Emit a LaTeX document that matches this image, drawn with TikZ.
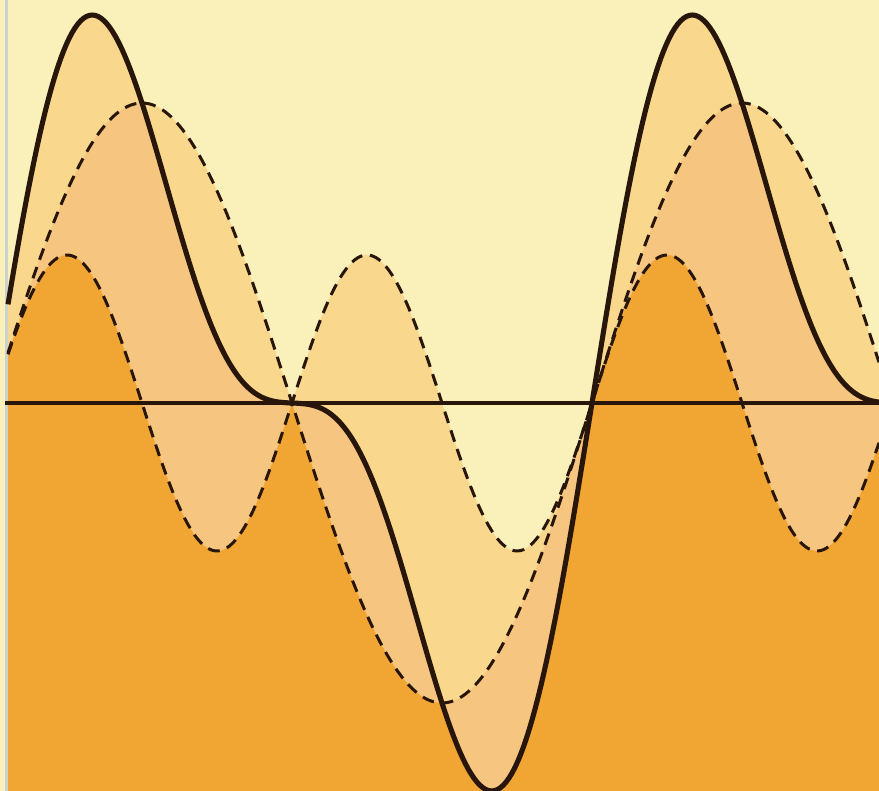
\documentclass[tikz,border=0pt]{standalone}
\usepackage{xcolor}
\usetikzlibrary{calc}
\definecolor{PaleBg}{RGB}{250,240,186}
\definecolor{ToneOne}{RGB}{249,215,140}
\definecolor{ToneTwo}{RGB}{246,197,128}
\definecolor{ToneThree}{RGB}{241,166,52}
\definecolor{InkBrown}{RGB}{40,22,10}
\definecolor{EdgeGrey}{RGB}{205,210,205}
\tikzset{
  declare function={
    bigw(\t)=300*sin(0.6*(\t+8));
    smallw(\t)=148*sin(1.2*(\t+8));
    sumw(\t)=bigw(\t)+smallw(\t);
  },
  wavesolid/.style={InkBrown,line width=1.45pt,line join=round},
  wavedash/.style={InkBrown,line width=0.85pt,dash pattern=on 3.4pt off 2.2pt},
  axisline/.style={InkBrown,line width=1.1pt},
  underbig/.style={insert path={plot[domain=0:879,samples=300] (\x,{403-bigw(\x)}) -- (879,791) -- (0,791) -- cycle}},
  undersmall/.style={insert path={plot[domain=0:879,samples=300] (\x,{403-smallw(\x)}) -- (879,791) -- (0,791) -- cycle}},
  undersum/.style={insert path={plot[domain=0:879,samples=300] (\x,{403-sumw(\x)}) -- (879,791) -- (0,791) -- cycle}},
}

\begin{document}
\begin{tikzpicture}[x=0.1mm,y=-0.1mm]
  \useasboundingbox (0,0) rectangle (879,791);
  % background
  \fill[PaleBg] (0,0) rectangle (879,791);
  % areas below one curve
  \fill[ToneOne,underbig];
  \fill[ToneOne,undersmall];
  \fill[ToneOne,undersum];
  % areas below two curves
  \begin{scope}
    \clip[underbig];
    \fill[ToneTwo,undersmall];
    \fill[ToneTwo,undersum];
  \end{scope}
  \begin{scope}
    \clip[undersmall];
    \fill[ToneTwo,undersum];
  \end{scope}
  % areas below all three
  \begin{scope}
    \clip[underbig];
    \clip[undersmall];
    \fill[ToneThree,undersum];
  \end{scope}
  % left margin of the scan
  \fill[PaleBg] (0,0) rectangle (5,791);
  \draw[EdgeGrey,line width=0.9pt] (6.5,0) -- (6.5,791);

  % axis and waves
  \coordinate (axisL) at (5,403);
  \coordinate (axisR) at (879,403);
  \draw[axisline] (axisL) -- (axisR);
  \draw[wavedash] plot[domain=8:879,samples=300] (\x,{403-bigw(\x)});
  \draw[wavedash] plot[domain=8:879,samples=300] (\x,{403-smallw(\x)});
  \draw[wavesolid] plot[domain=8:879,samples=300] (\x,{403-sumw(\x)});
\end{tikzpicture}
\end{document}
